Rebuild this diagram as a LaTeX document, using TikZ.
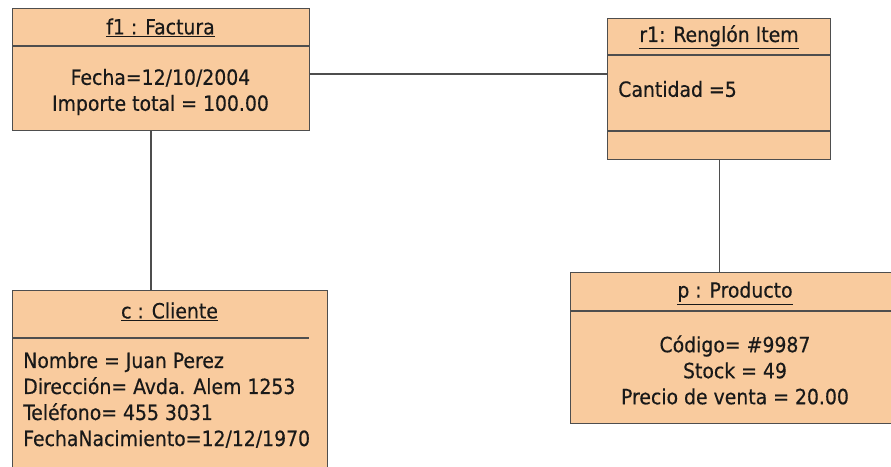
\documentclass[tikz,border=0pt]{standalone}
\usepackage{fontspec}
\setmainfont{DejaVu Sans Condensed}[
    BoldFont={DejaVu Sans Condensed},
    BoldFeatures={FakeBold=0.4}
]
\usepackage{tikz}
\usetikzlibrary{positioning, calc}
\definecolor{peach}{RGB}{249,203,158}
\definecolor{edge}{RGB}{78,78,78}

\begin{document}
\begin{tikzpicture}[
    font=\fontsize{14.9}{18.5}\selectfont\bfseries,
    obj/.style={
        rectangle, draw=edge, fill=peach, line width=1pt,
        anchor=north west, inner sep=0pt
    },
    title/.style={text=black!90, inner sep=0pt},
    attrs/.style={align=#1, text=black!90, inner sep=0pt},
    sep/.style={draw=edge, line width=1pt},
    link/.style={draw=edge, line width=1pt}
]
    \useasboundingbox (0,0) rectangle (22.275,-11.65);
    \clip (0,0) rectangle (22.275,-11.65);

    % object frames
    \node[obj, minimum width=7.425cm, minimum height=3.05cm]  (fact) at (0.3,-0.2)    {};
    \node[obj, minimum width=5.575cm, minimum height=3.525cm] (reng) at (15.175,-0.45) {};
    \node[obj, minimum width=7.875cm, minimum height=4.75cm]  (cli)  at (0.3,-7.25)   {};
    \node[obj, minimum width=8.25cm,  minimum height=3.775cm] (prod) at (14.25,-6.8)  {};

    % header / body separators
    \draw[sep] ([yshift=-0.95cm]fact.north west) -- ([yshift=-0.95cm]fact.north east);
    \draw[sep] ([yshift=-0.925cm]reng.north west) -- ([yshift=-0.925cm]reng.north east);
    \draw[sep] ([yshift=-2.825cm]reng.north west) -- ([yshift=-2.825cm]reng.north east);
    \draw[sep] ([yshift=-1.2cm]cli.north west) -- ++(7.425,0);
    \draw[sep] ([yshift=-0.975cm]prod.north west) -- ([yshift=-0.975cm]prod.north east);

    % names
    \node[title] (factname) at (4.0125,-0.7)  {\underline{f1 : Factura}};
    \node[title] (rengname) at (17.975,-0.93) {\underline{r1: Renglón Item}};
    \node[title] (cliname)  at (4.2375,-7.8)  {\underline{c : Cliente}};
    \node[title] (prodname) at (18.375,-7.33) {\underline{p : Producto}};

    % attribute values
    \node[attrs=center] (factattr) at (4.0125,-2.3) {Fecha=12/10/2004\\Importe total = 100.00};
    \node[attrs=left, anchor=west] (rengattr) at (15.45,-2.225) {Cantidad =5};
    \node[attrs=left, anchor=west] (cliattr) at (0.575,-10.0)
        {Nombre = Juan Perez\\Dirección= Avda. Alem 1253\\Teléfono= 455 3031\\FechaNacimiento=12/12/1970};
    \node[attrs=center] (prodattr) at (18.375,-9.25) {Código= \#9987\\Stock = 49\\Precio de venta = 20.00};

    % links
    \coordinate (joinfr) at (0,-1.85);
    \coordinate (joinfc) at (3.775,0);
    \draw[link] (fact.east |- joinfr) -- (reng.west |- joinfr);
    \draw[link] (fact.south -| joinfc) -- (cli.north -| joinfc);
    \draw[link] (reng.south) -- (reng.south |- prod.north);
\end{tikzpicture}
\end{document}
